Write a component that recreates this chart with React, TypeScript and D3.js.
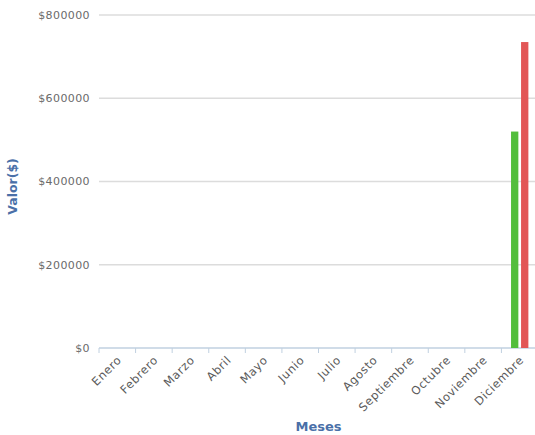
import React from "react";
import * as d3 from "d3";

const months = ["Enero", "Febrero", "Marzo", "Abril", "Mayo", "Junio", "Julio", "Agosto", "Septiembre", "Octubre", "Noviembre", "Diciembre"];
const seriesNames = ["serie1", "serie2"];
const serie1 = [0, 0, 0, 0, 0, 0, 0, 0, 0, 0, 0, 520000];
const serie2 = [0, 0, 0, 0, 0, 0, 0, 0, 0, 0, 0, 735000];
const seriesColors = ["#52be3c", "#e25656"];
const yTicks = [0, 200000, 400000, 600000, 800000];

const W = 535, H = 435;
const left = 99, right = 538, top = 15, bottom = 348;

export default function App() {
  const x = d3.scaleBand<string>().domain(months).range([left, right]).padding(0);
  const x1 = d3.scaleBand<string>().domain(seriesNames).range([0, x.bandwidth()]).paddingInner(0.27).paddingOuter(0.96);
  const y = d3.scaleLinear().domain([0, 800000]).range([bottom, top]);
  const data = [serie1, serie2];
  const boundaries = months.map((m) => x(m) as number);

  return (
    <svg width={W} height={H} style={{ position: "absolute", left: 0, top: 0 }}>
      <rect width={W} height={H} fill="#fff" />
      {yTicks.filter((t) => t > 0).map((t) => (
        <line key={t} x1={left} x2={W} y1={y(t)} y2={y(t)} stroke="#dcdcdc" strokeWidth={1.5} />
      ))}
      <line x1={left} x2={W} y1={bottom} y2={bottom} stroke="#c0d0e0" strokeWidth={1.5} />
      {boundaries.map((b, i) => (
        <line key={i} x1={b} x2={b} y1={bottom} y2={bottom + 5} stroke="#c0d0e0" strokeWidth={1} />
      ))}
      {yTicks.map((t) => (
        <text key={t} x={90} y={y(t)} dy="0.35em" textAnchor="end" fontFamily="DejaVu Sans" fontSize={11} fill="#6a6a6a" letterSpacing={0.4}>
          {"$" + t}
        </text>
      ))}
      {data.map((vals, si) =>
        vals.map((v, i) =>
          v > 0 ? (
            <rect
              key={si + "-" + i}
              x={(x(months[i]) as number) + (x1(seriesNames[si]) as number)}
              y={y(v)}
              width={x1.bandwidth()}
              height={bottom - y(v)}
              fill={seriesColors[si]}
            />
          ) : null
        )
      )}
      {months.map((m) => {
        const cx = (x(m) as number) + x.bandwidth() / 2;
        return (
          <text
            key={m}
            transform={`translate(${cx + 2},${bottom + 10}) rotate(-45)`}
            textAnchor="end"
            dy="0.35em"
            fontFamily="DejaVu Sans"
            fontSize={11.5}
            fill="#5a5a5a"
            letterSpacing={0.6}
          >
            {m}
          </text>
        );
      })}
      <text x={(left + right) / 2} y={431} textAnchor="middle" fontFamily="DejaVu Sans" fontWeight="bold" fontSize={13} fill="#4a70a8">
        Meses
      </text>
      <text transform={`translate(17,${(top + bottom) / 2 + 5}) rotate(-90)`} textAnchor="middle" fontFamily="DejaVu Sans" fontWeight="bold" fontSize={12.5} fill="#4a70a8">
        Valor($)
      </text>
    </svg>
  );
}
